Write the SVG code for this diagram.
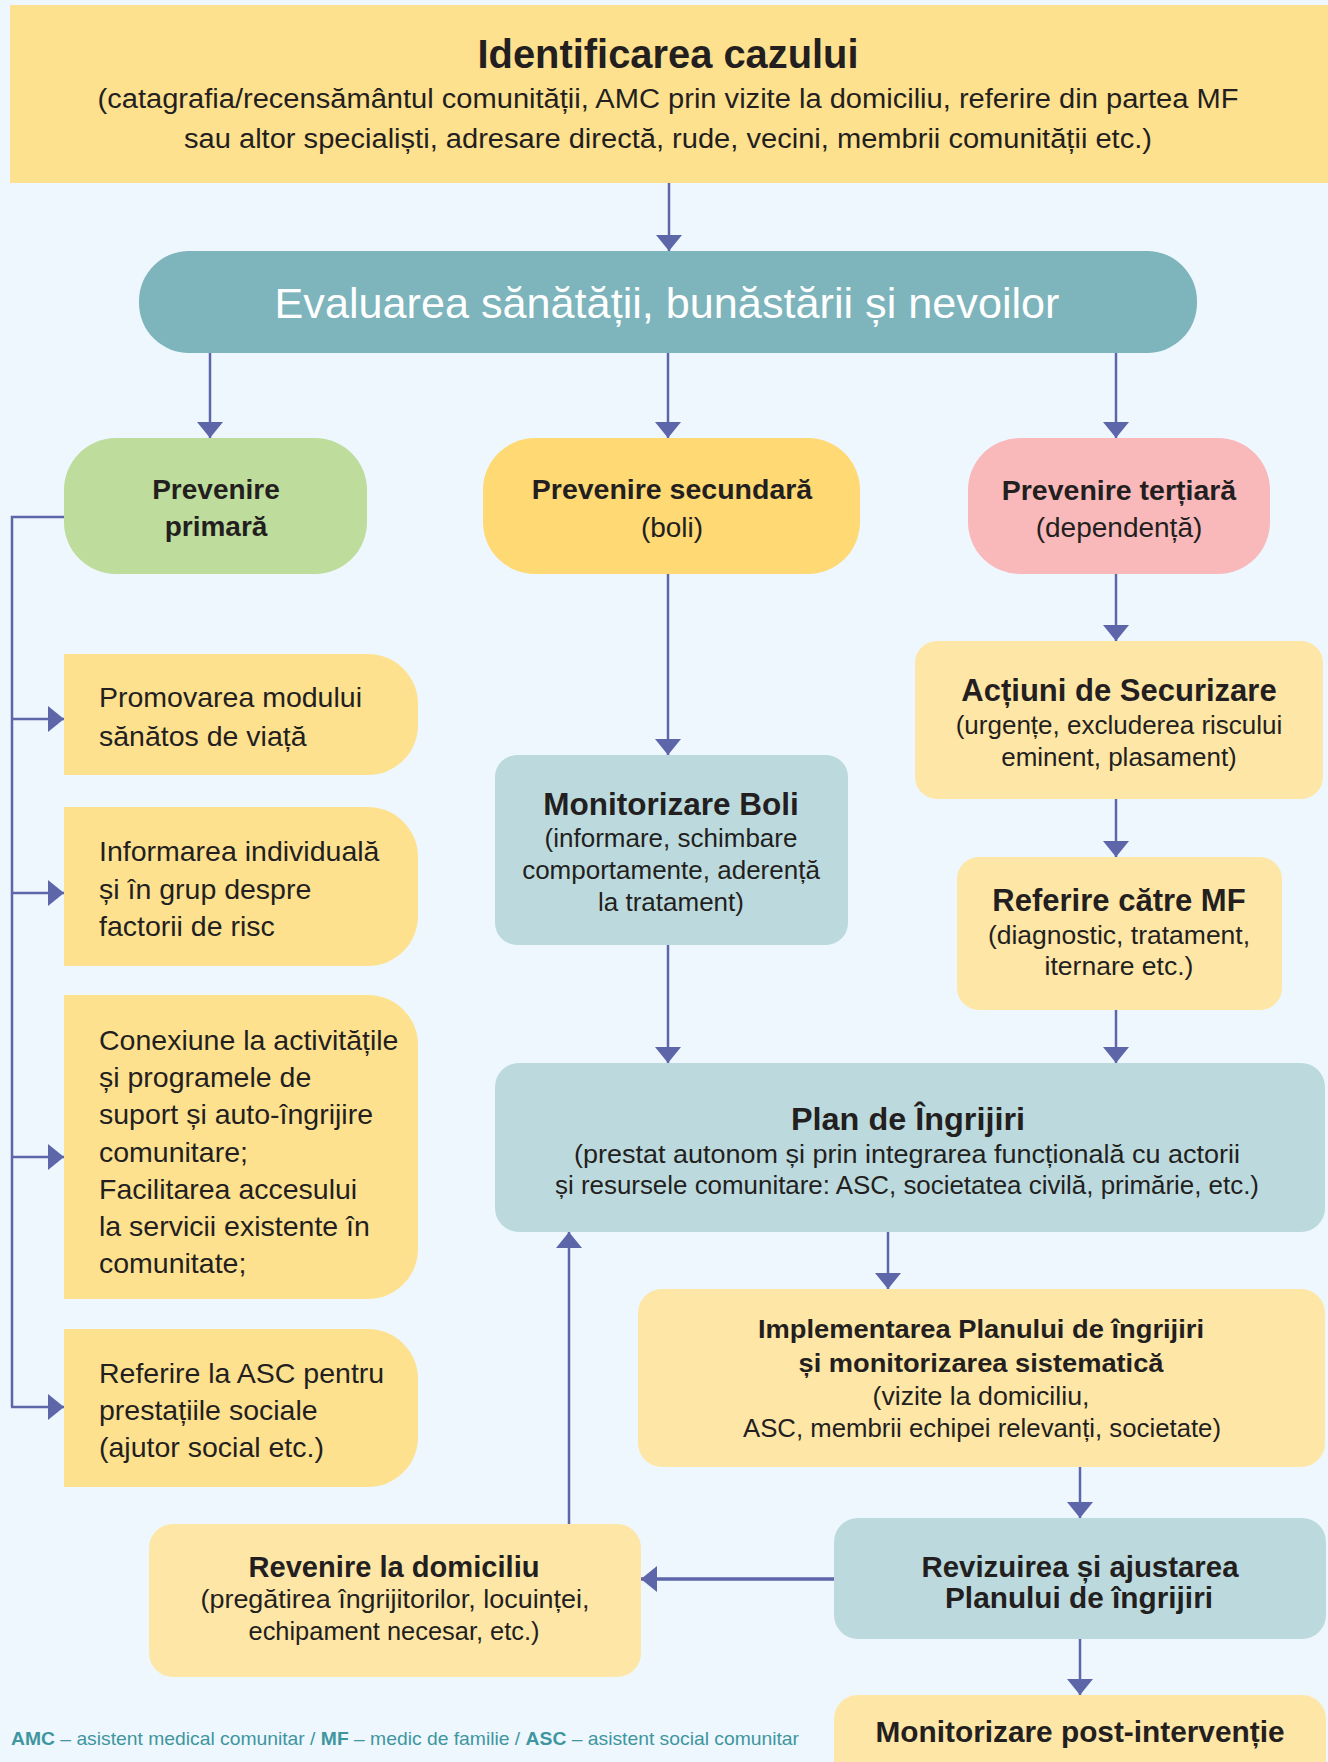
<svg xmlns="http://www.w3.org/2000/svg" width="1328" height="1762" viewBox="0 0 1328 1762">
<style>
text{font-family:"Liberation Sans",Arial,sans-serif;fill:#231f20}
.c{text-anchor:middle}
.b{font-weight:bold}
.t28{font-size:28.5px}
.t26{font-size:26.5px}
.n26{font-size:26px}
.ln{fill:none;stroke:#5c66a9;stroke-width:2.5}
.yl{fill:#fee18f}
.yl2{fill:#fee6a6}
.tl{fill:#bcdadd}
</style>
<defs>
<marker id="ah" viewBox="0 0 16 26" refX="16" refY="13" markerWidth="16" markerHeight="26" markerUnits="userSpaceOnUse" orient="auto">
<path d="M0,0 L16,13 L0,26 Z" fill="#5c66a9"/>
</marker>
</defs>
<rect x="0" y="0" width="1328" height="1762" fill="#eef7fe"/>

<g id="connectors">
<path class="ln" d="M669,183 V251" marker-end="url(#ah)"/>
<path class="ln" d="M210,353 V438" marker-end="url(#ah)"/>
<path class="ln" d="M668,353 V438" marker-end="url(#ah)"/>
<path class="ln" d="M1116,353 V438" marker-end="url(#ah)"/>
<path class="ln" d="M64,517 H12 V1407"/>
<path class="ln" d="M12,719 H64" marker-end="url(#ah)"/>
<path class="ln" d="M12,893 H64" marker-end="url(#ah)"/>
<path class="ln" d="M12,1157 H64" marker-end="url(#ah)"/>
<path class="ln" d="M11,1407 H64" marker-end="url(#ah)"/>
<path class="ln" d="M668,574 V755" marker-end="url(#ah)"/>
<path class="ln" d="M668,945 V1063" marker-end="url(#ah)"/>
<path class="ln" d="M1116,574 V641" marker-end="url(#ah)"/>
<path class="ln" d="M1116,799 V857" marker-end="url(#ah)"/>
<path class="ln" d="M1116,1010 V1063" marker-end="url(#ah)"/>
<path class="ln" d="M888,1232 V1289" marker-end="url(#ah)"/>
<path class="ln" d="M1080,1467 V1518" marker-end="url(#ah)"/>
<path class="ln" d="M1080,1639 V1695" marker-end="url(#ah)"/>
<path class="ln" d="M569,1524 V1232" marker-end="url(#ah)"/>
<path class="ln" style="stroke-width:3.5" d="M834,1579 H641" marker-end="url(#ah)"/>
</g>

<g id="identificare">
<rect x="10" y="5" width="1318" height="178" class="yl"/>
<text class="c b" x="668" y="68" font-size="41" textLength="381" lengthAdjust="spacingAndGlyphs">Identificarea cazului</text>
<text class="c" x="668" y="108" font-size="27" textLength="1141" lengthAdjust="spacingAndGlyphs">(catagrafia/recensământul comunității, AMC prin vizite la domiciliu, referire din partea MF</text>
<text class="c" x="668" y="148" font-size="27" textLength="968" lengthAdjust="spacingAndGlyphs">sau altor specialiști, adresare directă, rude, vecini, membrii comunității etc.)</text>
</g>

<g id="evaluare">
<rect x="139" y="251" width="1058" height="102" rx="50" ry="50" fill="#7eb4bb"/>
<text class="c" x="667" y="318" font-size="43" style="fill:#ffffff" textLength="785" lengthAdjust="spacingAndGlyphs">Evaluarea sănătății, bunăstării și nevoilor</text>
</g>

<g id="prevenire-primara">
<rect x="64" y="438" width="303" height="136" rx="52" ry="52" fill="#bedc9b"/>
<text class="c b" x="216" y="499" font-size="28">Prevenire</text>
<text class="c b" x="216" y="536" font-size="28">primară</text>
</g>

<g id="prevenire-secundara">
<rect x="483" y="438" width="377" height="136" rx="52" ry="52" fill="#fed974"/>
<text class="c b" x="672" y="499" font-size="28.5">Prevenire secundară</text>
<text class="c" x="672" y="537" font-size="28">(boli)</text>
</g>

<g id="prevenire-tertiara">
<rect x="968" y="438" width="302" height="136" rx="52" ry="52" fill="#f9b9bb"/>
<text class="c b" x="1119" y="500" font-size="28.5">Prevenire terțiară</text>
<text class="c" x="1119" y="537" font-size="28">(dependență)</text>
</g>

<g id="promovarea">
<path class="yl" d="M64,654 H368 A50,50 0 0 1 418,704 V725 A50,50 0 0 1 368,775 H64 Z"/>
<text class="t28" x="99" y="707">Promovarea modului</text>
<text class="t28" x="99" y="746">sănătos de viață</text>
</g>

<g id="informarea">
<path class="yl" d="M64,807 H368 A50,50 0 0 1 418,857 V916 A50,50 0 0 1 368,966 H64 Z"/>
<text class="t28" x="99" y="861">Informarea individuală</text>
<text class="t28" x="99" y="899">și în grup despre</text>
<text class="t28" x="99" y="936">factorii de risc</text>
</g>

<g id="conexiune">
<path class="yl" d="M64,995 H368 A50,50 0 0 1 418,1045 V1249 A50,50 0 0 1 368,1299 H64 Z"/>
<text class="t28" x="99" y="1050">Conexiune la activitățile</text>
<text class="t28" x="99" y="1087">și programele de</text>
<text class="t28" x="99" y="1124">suport și auto-îngrijire</text>
<text class="t28" x="99" y="1162">comunitare;</text>
<text class="t28" x="99" y="1199">Facilitarea accesului</text>
<text class="t28" x="99" y="1236">la servicii existente în</text>
<text class="t28" x="99" y="1273">comunitate;</text>
</g>

<g id="referire-asc">
<path class="yl" d="M64,1329 H368 A50,50 0 0 1 418,1379 V1437 A50,50 0 0 1 368,1487 H64 Z"/>
<text class="t28" x="99" y="1383">Referire la ASC pentru</text>
<text class="t28" x="99" y="1420">prestațiile sociale</text>
<text class="t28" x="99" y="1457">(ajutor social etc.)</text>
</g>

<g id="monitorizare-boli">
<rect x="495" y="755" width="353" height="190" rx="22" ry="22" class="tl"/>
<text class="c b" x="671" y="815" font-size="31.5">Monitorizare Boli</text>
<text class="c n26" x="671" y="847">(informare, schimbare</text>
<text class="c n26" x="671" y="879">comportamente, aderență</text>
<text class="c n26" x="671" y="911">la tratament)</text>
</g>

<g id="actiuni-securizare">
<rect x="915" y="641" width="408" height="158" rx="22" ry="22" class="yl2"/>
<text class="c b" x="1119" y="701" font-size="31">Acțiuni de Securizare</text>
<text class="c n26" x="1119" y="734">(urgențe, excluderea riscului</text>
<text class="c n26" x="1119" y="766">eminent, plasament)</text>
</g>

<g id="referire-mf">
<rect x="957" y="857" width="325" height="153" rx="22" ry="22" class="yl2"/>
<text class="c b" x="1119" y="911" font-size="31">Referire către MF</text>
<text class="c t26" x="1119" y="944">(diagnostic, tratament,</text>
<text class="c t26" x="1119" y="975">iternare etc.)</text>
</g>

<g id="plan-ingrijiri">
<rect x="495" y="1063" width="830" height="169" rx="24" ry="24" class="tl"/>
<text class="c b" x="908" y="1130" font-size="31" textLength="234" lengthAdjust="spacingAndGlyphs">Plan de Îngrijiri</text>
<text class="c" x="907" y="1163" font-size="26" textLength="666" lengthAdjust="spacingAndGlyphs">(prestat autonom și prin integrarea funcțională cu actorii</text>
<text class="c" x="907" y="1194" font-size="26" textLength="704" lengthAdjust="spacingAndGlyphs">și resursele comunitare: ASC, societatea civilă, primărie, etc.)</text>
</g>

<g id="implementarea">
<rect x="638" y="1289" width="687" height="178" rx="24" ry="24" class="yl2"/>
<text class="c b" x="981" y="1338" font-size="26" textLength="446" lengthAdjust="spacingAndGlyphs">Implementarea Planului de îngrijiri</text>
<text class="c b" x="981" y="1372" font-size="26" textLength="365" lengthAdjust="spacingAndGlyphs">și monitorizarea sistematică</text>
<text class="c" x="981" y="1405" font-size="26" textLength="217" lengthAdjust="spacingAndGlyphs">(vizite la domiciliu,</text>
<text class="c" x="982" y="1437" font-size="26" textLength="478" lengthAdjust="spacingAndGlyphs">ASC, membrii echipei relevanți, societate)</text>
</g>

<g id="revenire">
<rect x="149" y="1524" width="492" height="153" rx="24" ry="24" class="yl2"/>
<text class="c b" x="394" y="1577" font-size="29" textLength="291" lengthAdjust="spacingAndGlyphs">Revenire la domiciliu</text>
<text class="c" x="395" y="1608" font-size="26" textLength="389" lengthAdjust="spacingAndGlyphs">(pregătirea îngrijitorilor, locuinței,</text>
<text class="c" x="394" y="1640" font-size="26" textLength="291" lengthAdjust="spacingAndGlyphs">echipament necesar, etc.)</text>
</g>

<g id="revizuirea">
<rect x="834" y="1518" width="492" height="121" rx="24" ry="24" class="tl"/>
<text class="c b" x="1080" y="1577" font-size="29" textLength="317" lengthAdjust="spacingAndGlyphs">Revizuirea și ajustarea</text>
<text class="c b" x="1079" y="1608" font-size="29" textLength="268" lengthAdjust="spacingAndGlyphs">Planului de îngrijiri</text>
</g>

<g id="monitorizare-post">
<rect x="834" y="1695" width="492" height="100" rx="24" ry="24" class="yl2"/>
<text class="c b" x="1080" y="1742" font-size="29" textLength="409" lengthAdjust="spacingAndGlyphs">Monitorizare post-intervenție</text>
</g>

<g id="legenda">
<text x="11" y="1745" font-size="19" style="fill:#3e969e" textLength="788" lengthAdjust="spacingAndGlyphs"><tspan class="b" style="fill:#3e969e">AMC</tspan> – asistent medical comunitar / <tspan class="b" style="fill:#3e969e">MF</tspan> – medic de familie / <tspan class="b" style="fill:#3e969e">ASC</tspan> – asistent social comunitar</text>
</g>
</svg>
